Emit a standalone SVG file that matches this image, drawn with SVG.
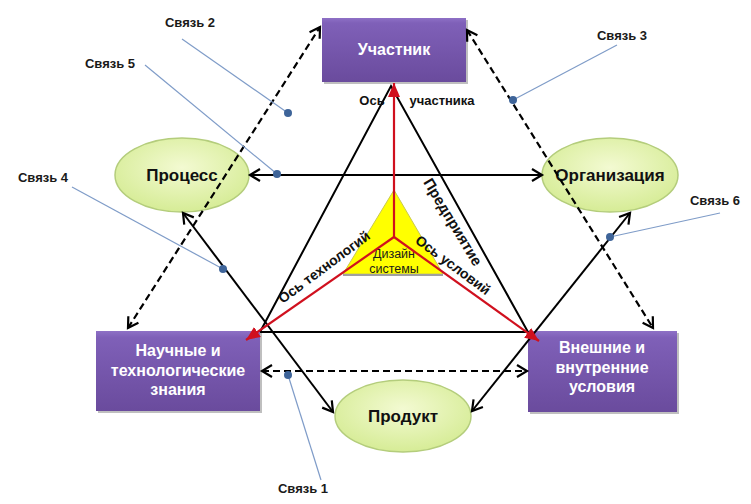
<svg xmlns="http://www.w3.org/2000/svg" width="751" height="504" viewBox="0 0 751 504">
<defs>
<linearGradient id="gBox" x1="0" y1="0" x2="0" y2="1">
<stop offset="0" stop-color="#8e70c6"/>
<stop offset="0.08" stop-color="#7f60b8"/>
<stop offset="1" stop-color="#6a4b9d"/>
</linearGradient>
<radialGradient id="gEll" cx="0.5" cy="0.4" r="0.6">
<stop offset="0" stop-color="#f3fad2"/>
<stop offset="1" stop-color="#d6ec96"/>
</radialGradient>
<marker id="ah" markerUnits="userSpaceOnUse" markerWidth="16" markerHeight="16" viewBox="0 0 16 16" refX="13" refY="8" orient="auto-start-reverse">
<path d="M3,2 L13,8 L3,14" fill="none" stroke="#000" stroke-width="2.2"/>
</marker>
<marker id="ahr" markerUnits="userSpaceOnUse" markerWidth="16" markerHeight="16" viewBox="0 0 16 16" refX="14" refY="8" orient="auto">
<path d="M0,2 L14,8 L0,14 Z" fill="#d0101e"/>
</marker>
</defs>
<style>
.box{fill:url(#gBox)}
.shadow{fill:#000;opacity:0.25}
.bt{font-family:"Liberation Sans",Arial,sans-serif;font-weight:bold;font-size:16px;fill:#fff;text-anchor:middle}
.ell{fill:url(#gEll);stroke:#b4cd7c;stroke-width:1.5}
.et{font-family:"Liberation Sans",Arial,sans-serif;font-weight:bold;font-size:17px;fill:#111;text-anchor:middle}
.ln{stroke:#000;stroke-width:2;fill:none}
.dash{stroke:#000;stroke-width:2.2;fill:none;stroke-dasharray:7,4}
.red{stroke:#d0101e;stroke-width:2.2;fill:none}
.call{stroke:#7f9cc8;stroke-width:1.2;fill:none}
.dot{fill:#3e6499}
.lt{font-family:"Liberation Sans",Arial,sans-serif;font-weight:bold;font-size:13px;fill:#1a1a1a;text-anchor:middle}
.ax{font-family:"Liberation Sans",Arial,sans-serif;font-weight:bold;font-size:14px;fill:#111;text-anchor:middle}
.ds{font-family:"Liberation Sans",Arial,sans-serif;font-size:12.5px;fill:#1a1a1a;text-anchor:middle}
</style>
<rect width="751" height="504" fill="#fff"/>

<g id="design">
<polygon points="394,190 343,274 443,274" fill="#ffff00" stroke="#c8c850" stroke-width="1"/>
<line x1="343" y1="275" x2="443" y2="275" stroke="#a0a0a0" stroke-width="2"/>
<text class="ds" x="394" y="258">Дизайн</text>
<text class="ds" x="394" y="272.5">системы</text>
</g>

<g id="uchastnik">
<rect class="shadow" x="324" y="20" width="144" height="64"/>
<rect class="box" x="322" y="18" width="144" height="64"/>
<text class="bt" x="394" y="55">Участник</text>
</g>

<g id="nauchnye">
<rect class="shadow" x="98" y="333" width="164" height="80"/>
<rect class="box" x="96" y="331" width="164" height="80"/>
<text class="bt" x="178" y="356">Научные и</text>
<text class="bt" x="178" y="376">технологические</text>
<text class="bt" x="178" y="395">знания</text>
</g>

<g id="vneshnie">
<rect class="shadow" x="530" y="333" width="149" height="81"/>
<rect class="box" x="528" y="331" width="149" height="81"/>
<text class="bt" x="602" y="353">Внешние и</text>
<text class="bt" x="602" y="373">внутренние</text>
<text class="bt" x="602" y="392">условия</text>
</g>

<g id="process">
<ellipse class="ell" cx="182" cy="175" rx="67" ry="37"/>
<text class="et" x="182" y="181">Процесс</text>
</g>

<g id="organizatsiya">
<ellipse class="ell" cx="610" cy="175" rx="68" ry="37"/>
<text class="et" x="610" y="181">Организация</text>
</g>

<g id="produkt">
<ellipse class="ell" cx="403" cy="416" rx="68" ry="36"/>
<text class="et" x="403" y="422">Продукт</text>
</g>

<g id="connectors">
<polyline class="ln" points="260,332 391,86 528,332 260,332"/>
<line class="ln" x1="250" y1="175" x2="542" y2="175" marker-start="url(#ah)" marker-end="url(#ah)"/>
<line class="ln" x1="183" y1="213" x2="333" y2="412" marker-start="url(#ah)" marker-end="url(#ah)"/>
<line class="ln" x1="630" y1="213" x2="472" y2="411" marker-start="url(#ah)" marker-end="url(#ah)"/>
<line class="dash" x1="262" y1="371" x2="527" y2="371" marker-start="url(#ah)" marker-end="url(#ah)"/>
<line class="dash" x1="128" y1="328" x2="320" y2="27" marker-start="url(#ah)" marker-end="url(#ah)"/>
<line class="dash" x1="467" y1="30" x2="653" y2="328" marker-start="url(#ah)" marker-end="url(#ah)"/>
<line class="red" x1="394" y1="237" x2="394" y2="83" marker-end="url(#ahr)"/>
<line class="red" x1="394" y1="237" x2="246" y2="340" marker-end="url(#ahr)"/>
<line class="red" x1="394" y1="237" x2="539" y2="341" marker-end="url(#ahr)"/>
</g>

<g id="axis-labels">
<text class="ax" x="372" y="105" style="font-size:13px">Ось</text>
<text class="ax" x="442" y="105" style="font-size:13px">участника</text>
<text class="ax" x="324" y="267" dy="0.35em" transform="rotate(-36.7 324 267)">Ось технологий</text>
<text class="ax" x="453" y="222" dy="0.35em" transform="rotate(59 453 222)" style="font-size:15px">Предприятие</text>
<text class="ax" x="453" y="265" dy="0.35em" transform="rotate(36.7 453 265)">Ось условий</text>
</g>

<g id="callouts">
<line class="call" x1="321" y1="480" x2="288" y2="375"/>
<circle class="dot" cx="288" cy="375" r="4"/>
<text class="lt" x="303" y="493">Связь 1</text>
<line class="call" x1="182" y1="39" x2="288" y2="113"/>
<circle class="dot" cx="288" cy="113" r="4"/>
<text class="lt" x="190" y="27">Связь 2</text>
<line class="call" x1="617" y1="45" x2="513" y2="100"/>
<circle class="dot" cx="513" cy="100" r="4"/>
<text class="lt" x="622" y="40">Связь 3</text>
<line class="call" x1="72" y1="187" x2="223" y2="269"/>
<circle class="dot" cx="223" cy="269" r="4"/>
<text class="lt" x="43" y="182">Связь 4</text>
<line class="call" x1="145" y1="65" x2="277" y2="174"/>
<circle class="dot" cx="277" cy="174" r="4"/>
<text class="lt" x="110" y="68">Связь 5</text>
<line class="call" x1="720" y1="213" x2="610" y2="237"/>
<circle class="dot" cx="610" cy="237" r="4"/>
<text class="lt" x="715" y="205">Связь 6</text>
</g>
</svg>
